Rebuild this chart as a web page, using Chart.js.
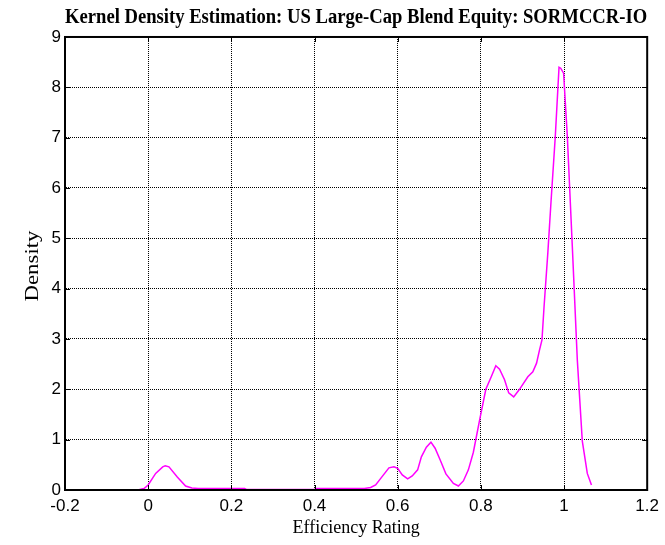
<!DOCTYPE html>
<html>
<head>
<meta charset="utf-8">
<script src="https://cdn.jsdelivr.net/npm/chart.js@4"></script>
<style>
	html, body { margin: 0; padding: 0; background: #fff; }
	#wrap { width: 665px; height: 545px; }
</style>
</head>
<body>
<div id="wrap"><canvas id="kde" width="665" height="545"></canvas></div>
<script>
// значения (x — рейтинг эффективности, y — плотность)
const efficiency = [
	-0.025, -0.01, 0.0, 0.018, 0.035, 0.041, 0.05, 0.07, 0.09, 0.105, 0.12,
	0.232, 0.236, 0.4, 0.404, 0.52, 0.535, 0.547, 0.563, 0.579, 0.591, 0.6,
	0.611, 0.624, 0.635, 0.648, 0.657, 0.669, 0.68, 0.69, 0.702, 0.716, 0.734,
	0.746, 0.758, 0.77, 0.782, 0.797, 0.812, 0.825, 0.836, 0.845, 0.857, 0.867,
	0.879, 0.893, 0.913, 0.925, 0.934, 0.941, 0.947, 0.952, 0.961, 0.969, 0.979,
	0.988, 0.992, 0.999, 1.008, 1.02, 1.032, 1.044, 1.056, 1.066,
];
const density = [
	0.0, 0.03, 0.1, 0.33, 0.46, 0.48, 0.46, 0.26, 0.08, 0.04, 0.03,
	0.03, 0.01, 0.01, 0.03, 0.03, 0.05, 0.1, 0.27, 0.44, 0.46, 0.43,
	0.3, 0.22, 0.28, 0.4, 0.66, 0.85, 0.95, 0.83, 0.6, 0.32, 0.13,
	0.08, 0.18, 0.4, 0.75, 1.39, 2.0, 2.25, 2.47, 2.4, 2.19, 1.93,
	1.85, 2.0, 2.25, 2.35, 2.52, 2.78, 2.98, 3.64, 4.7, 5.76, 7.02,
	8.4, 8.38, 8.28, 7.02, 4.83, 2.58, 0.97, 0.33, 0.1,
];
const xTickLabels = ["-0.2", "0", "0.2", "0.4", "0.6", "0.8", "1", "1.2"];
const yTickLabels = ["0", "1", "2", "3", "4", "5", "6", "7", "8", "9"];

const chartTitle = "Kernel Density Estimation: US Large-Cap Blend Equity: SORMCCR-IO";
const xTitle = "Efficiency Rating";
const yTitle = "Density";

Chart.defaults.color = "#000";

// рамка, внутренние засечки и подпись оси Y в стиле MATLAB
const matlabBox = {
	id: "matlabBox",
	afterDatasetsDraw(chart) {
		const { ctx, chartArea: a, scales } = chart;
		ctx.save();
		ctx.strokeStyle = "#000";
		ctx.lineWidth = 1;
		ctx.beginPath();
		scales.x.ticks.forEach((t) => {
			const px = Math.round(scales.x.getPixelForValue(t.value)) + 0.5;
			ctx.moveTo(px, a.bottom);
			ctx.lineTo(px, a.bottom - 5);
			ctx.moveTo(px, a.top);
			ctx.lineTo(px, a.top + 5);
		});
		scales.y.ticks.forEach((t) => {
			const py = Math.round(scales.y.getPixelForValue(t.value)) + 0.5;
			ctx.moveTo(a.left, py);
			ctx.lineTo(a.left + 5, py);
			ctx.moveTo(a.right, py);
			ctx.lineTo(a.right - 5, py);
		});
		ctx.stroke();

		ctx.lineWidth = 2;
		ctx.strokeRect(a.left, a.top, a.width, a.height);

		ctx.translate(38, 266);
		ctx.rotate(-Math.PI / 2);
		ctx.scale(1.2, 1);
		ctx.font = '19px "Liberation Serif"';
		ctx.fillStyle = "#000";
		ctx.textAlign = "center";
		ctx.textBaseline = "alphabetic";
		ctx.fillText(yTitle, 0, 0);
		ctx.restore();
	},
};

const points = efficiency.map((x, i) => ({ x: x, y: density[i] }));

const config = {
	type: "line",
	data: {
		datasets: [
			{
				data: points,
				borderColor: "#ff00ff",
				borderWidth: 1.5,
				pointRadius: 0,
				tension: 0,
				fill: false,
			},
		],
	},
	options: {
		responsive: false,
		animation: false,
		devicePixelRatio: 1,
		layout: {
			padding: { left: 0, right: 13, top: 0, bottom: 0 },
		},
		plugins: {
			legend: { display: false },
			tooltip: { enabled: false },
			title: {
				display: true,
				fullSize: false,
				text: chartTitle,
				color: "#000",
				font: { family: "Liberation Serif", size: 19.9, weight: "bold" },
				padding: { top: 5.5, bottom: 7.6 },
			},
		},
		scales: {
			x: {
				type: "linear",
				min: -0.2,
				max: 1.2,
				ticks: {
					stepSize: 0.2,
					padding: 6,
					maxRotation: 0,
					autoSkip: false,
					font: { family: "Liberation Sans", size: 17 },
					callback: (value, index) => xTickLabels[index],
				},
				grid: {
					color: "#000",
					lineWidth: 1,
					drawTicks: false,
				},
				border: { color: "#000", width: 2, dash: [1, 1] },
				title: {
					display: true,
					text: xTitle,
					font: { family: "Liberation Serif", size: 18 },
					padding: { top: 0, bottom: 6 },
				},
				afterFit: (scale) => {
					scale.height = 55;
				},
			},
			y: {
				type: "linear",
				min: 0,
				max: 9,
				ticks: {
					stepSize: 1,
					padding: 4,
					autoSkip: false,
					font: { family: "Liberation Sans", size: 17 },
					callback: (value, index) => yTickLabels[index],
				},
				grid: {
					color: "#000",
					lineWidth: 1,
					drawTicks: false,
				},
				border: { color: "#000", width: 2, dash: [1, 1] },
				afterFit: (scale) => {
					scale.width = 65;
				},
			},
		},
	},
	plugins: [matlabBox],
};

const kdeChart = new Chart(document.getElementById("kde"), config);
</script>
</body>
</html>
